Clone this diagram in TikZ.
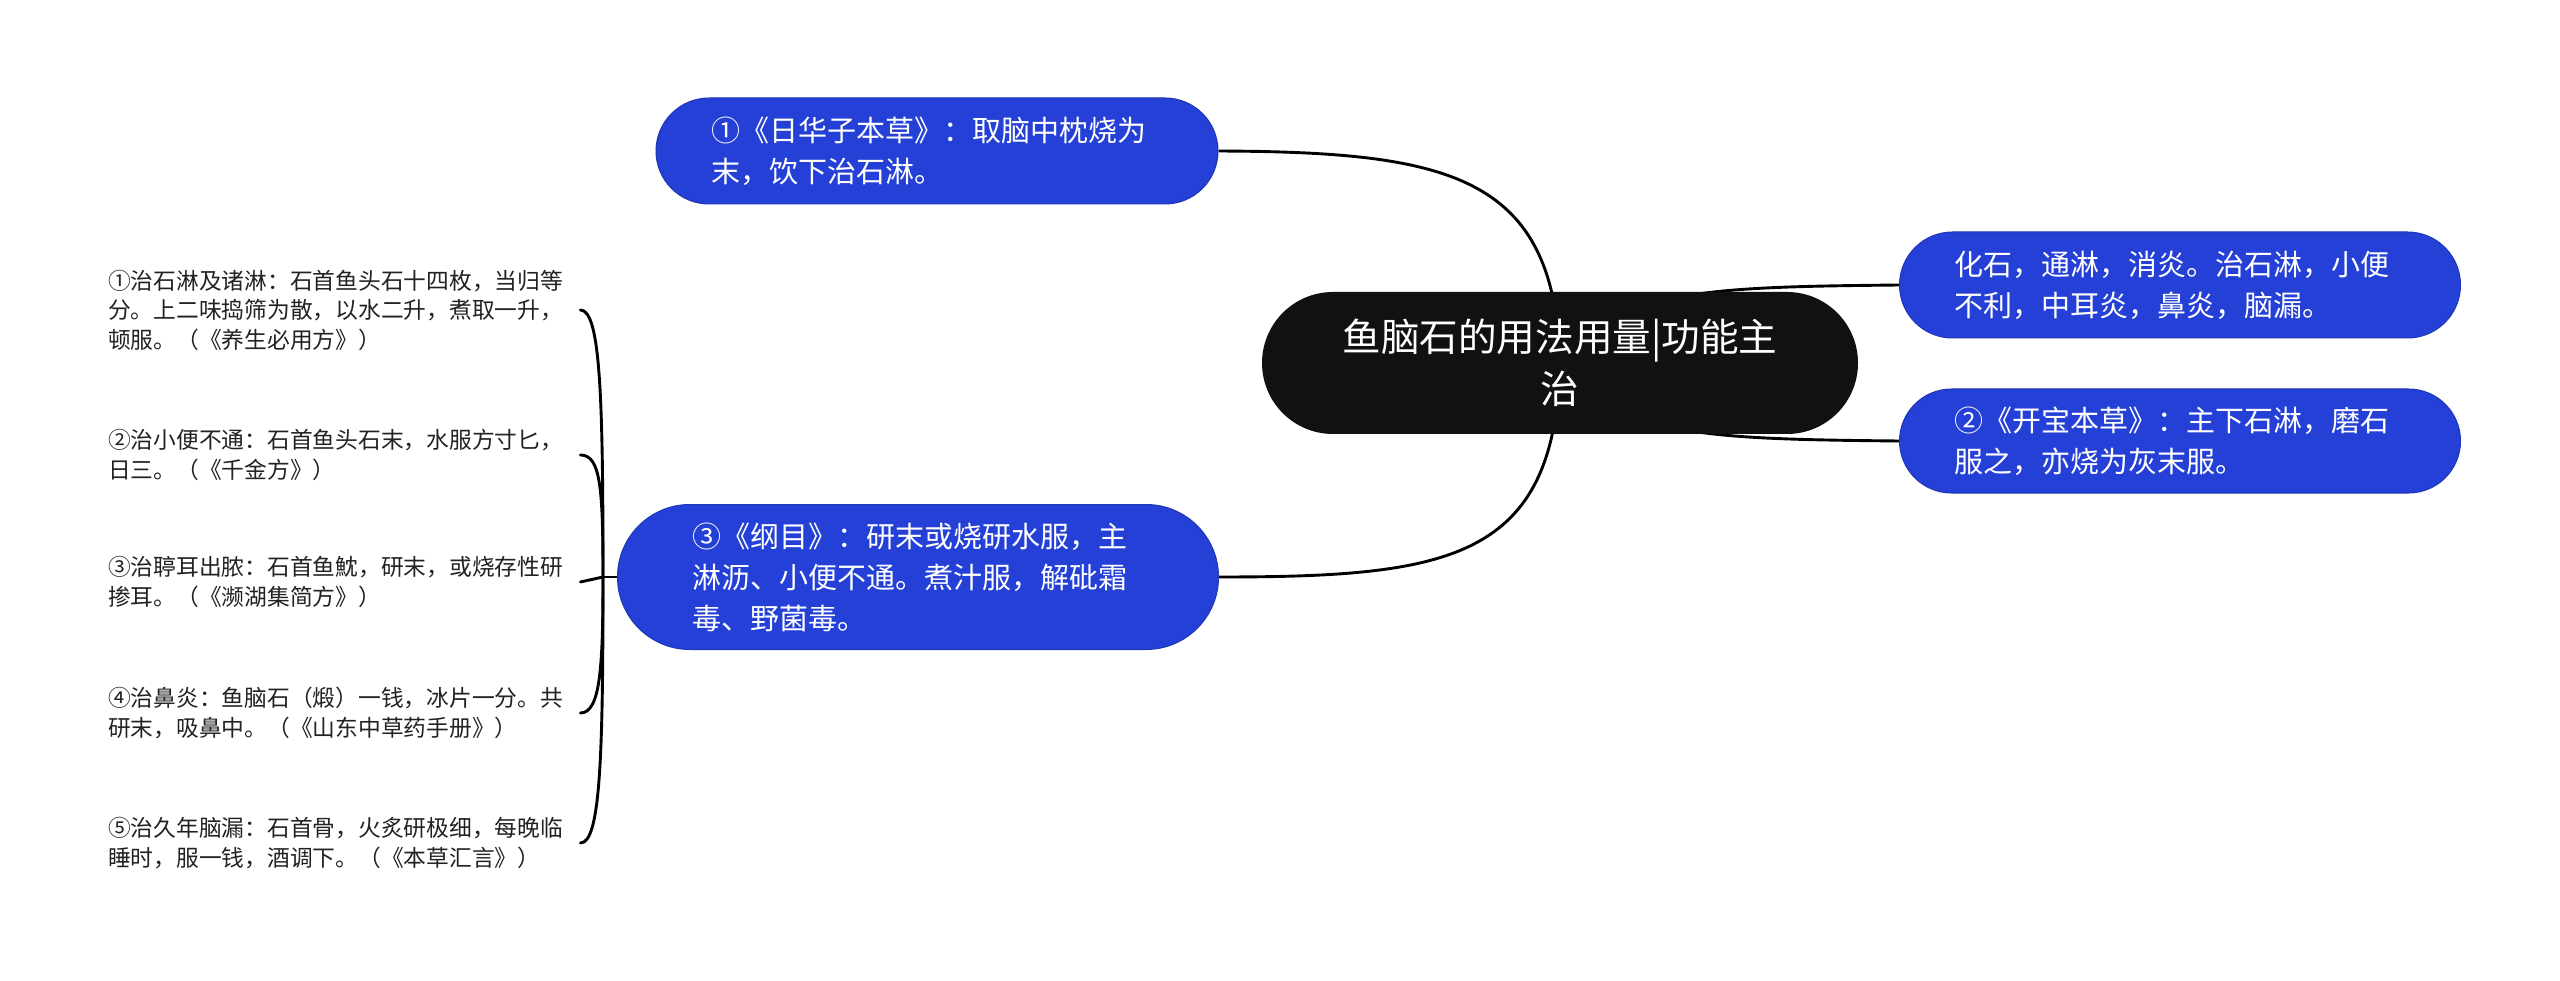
\documentclass[tikz,border=0pt]{standalone}
\usepackage{fontspec}
\setmainfont{Noto Sans CJK SC}
\usetikzlibrary{shapes.misc,backgrounds}
\definecolor{nodeblue}{RGB}{37,64,214}
\definecolor{nodeblack}{RGB}{17,17,17}
\definecolor{leaftext}{RGB}{34,34,34}
\begin{document}
\begin{tikzpicture}[x=1pt,y=-1pt,
  topic/.style={rounded rectangle, fill=nodeblue, draw=nodeblue!85!black, line width=1pt,
    text=white, inner xsep=0pt, inner ysep=0pt, text width=452pt, align=left,
    font=\fontsize{29pt}{41pt}\selectfont},
  central/.style={rounded rectangle, fill=nodeblack, text=white, inner xsep=0pt, inner ysep=0pt,
    text width=470pt, align=center, minimum width=596pt, minimum height=142pt,
    font=\fontsize{38.6pt}{52pt}\selectfont},
  leaf/.style={anchor=west, inner sep=0pt, text width=472pt, align=left, text=leaftext,
    font=\fontsize{22.75pt}{29.5pt}\selectfont},
  conn/.style={draw=black, line width=2.9pt},
  bracel/.style={draw=black, line width=2.9pt, line cap=round}]
\useasboundingbox (0,0) rectangle (2560,981);

\node[central] (c) at (1560,363) {鱼脑石的用法用量|功能主\\治};
\node[topic, minimum width=562pt, minimum height=106pt] (n1) at (937,151)
  {①《日华子本草》：取脑中枕烧为\\末，饮下治石淋。};
\node[topic, minimum width=561pt, minimum height=106pt] (r1) at (2180,285)
  {化石，通淋，消炎。治石淋，小便\\不利，中耳炎，鼻炎，脑漏。};
\node[topic, minimum width=561pt, minimum height=104pt] (r2) at (2180,441)
  {②《开宝本草》：主下石淋，磨石\\服之，亦烧为灰末服。};
\node[topic, minimum width=601pt, minimum height=145pt] (n3) at (918,577)
  {③《纲目》：研末或烧研水服，主\\淋沥、小便不通。煮汁服，解砒霜\\毒、野菌毒。};

\node[leaf] (l1) at (108,310) {①治石淋及诸淋：石首鱼头石十四枚，当归等\\分。上二味捣筛为散，以水二升，煮取一升，\\顿服。（《养生必用方》）};
\node[leaf] (l2) at (108,455) {②治小便不通：石首鱼头石末，水服方寸匕，\\日三。（《千金方》）};
\node[leaf] (l3) at (108,582) {③治聤耳出脓：石首鱼魫，研末，或烧存性研\\掺耳。（《濒湖集简方》）};
\node[leaf] (l4) at (108,713) {④治鼻炎：鱼脑石（煅）一钱，冰片一分。共\\研末，吸鼻中。（《山东中草药手册》）};
\node[leaf] (l5) at (108,843) {⑤治久年脑漏：石首骨，火炙研极细，每晚临\\睡时，服一钱，酒调下。（《本草汇言》）};

\coordinate (j) at (603,577);

\begin{scope}[on background layer]
\fill[white] (0,0) rectangle (2560,981);
\draw[conn] (c.center) .. controls (1555,175) and (1450,152) .. (n1.east);
\draw[conn] (c.center) .. controls (1555,560) and (1450,577) .. (n3.east);
\draw[conn] (c.center) .. controls (1620,290) and (1700,287) .. (r1.west);
\draw[conn] (c.center) .. controls (1620,436) and (1700,439) .. (r2.west);
\draw[conn] (n3.west) -- (j);
\draw[bracel] (l1.east) .. controls +(20,0) and +(0,-180) .. (j);
\draw[bracel] (l2.east) .. controls +(20,0) and +(0,-90) .. (j);
\draw[bracel] (l3.east) -- (j);
\draw[bracel] (l4.east) .. controls +(20,0) and +(0,90) .. (j);
\draw[bracel] (l5.east) .. controls +(20,0) and +(0,180) .. (j);
\end{scope}
\end{tikzpicture}
\end{document}
